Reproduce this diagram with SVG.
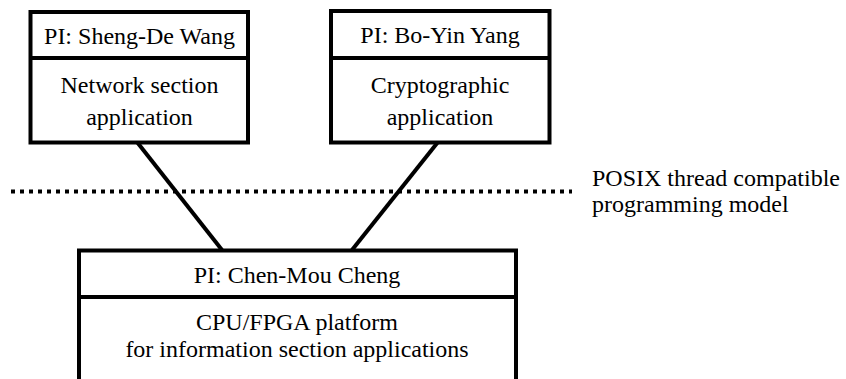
<svg xmlns="http://www.w3.org/2000/svg" width="846" height="379" viewBox="0 0 846 379">
<style>
.box{fill:#fff;stroke:#000;stroke-width:4}
.div{stroke:#000;stroke-width:4}
.t{font-family:"Liberation Serif","Times New Roman",serif;font-size:24px;fill:#000;text-anchor:middle}
.tl{font-family:"Liberation Serif","Times New Roman",serif;font-size:24px;fill:#000}
.conn{stroke:#000;stroke-width:4;fill:none}
.dot{stroke:#000;stroke-width:4;stroke-dasharray:4 5;fill:none}
</style>
<rect width="846" height="379" fill="#fff"/>
<g id="connectors">
<line class="dot" x1="11" y1="191.5" x2="572" y2="191.5"/>
<line class="conn" x1="137" y1="142" x2="222" y2="250"/>
<line class="conn" x1="438" y1="142" x2="352" y2="250"/>
</g>
<g id="node-wang">
<rect class="box" x="30.5" y="12" width="217.5" height="130.5"/>
<line class="div" x1="30.5" y1="58" x2="248" y2="58"/>
<text class="t" x="139.5" y="44">PI: Sheng-De Wang</text>
<text class="t" x="139.5" y="93">Network section</text>
<text class="t" x="139.5" y="125">application</text>
</g>
<g id="node-yang">
<rect class="box" x="331" y="11" width="218.5" height="131.5"/>
<line class="div" x1="331" y1="58" x2="549.5" y2="58"/>
<text class="t" x="440" y="43">PI: Bo-Yin Yang</text>
<text class="t" x="440" y="93">Cryptographic</text>
<text class="t" x="440" y="125">application</text>
</g>
<g id="node-cheng">
<rect class="box" x="79" y="250.5" width="437" height="150"/>
<line class="div" x1="79" y1="297" x2="516" y2="297"/>
<text class="t" x="297" y="283">PI: Chen-Mou Cheng</text>
<text class="t" x="297" y="330">CPU/FPGA platform</text>
<text class="t" x="297" y="357">for information section applications</text>
</g>
<g id="label-posix">
<text class="tl" x="592" y="186">POSIX thread compatible</text>
<text class="tl" x="592" y="212">programming model</text>
</g>
</svg>
